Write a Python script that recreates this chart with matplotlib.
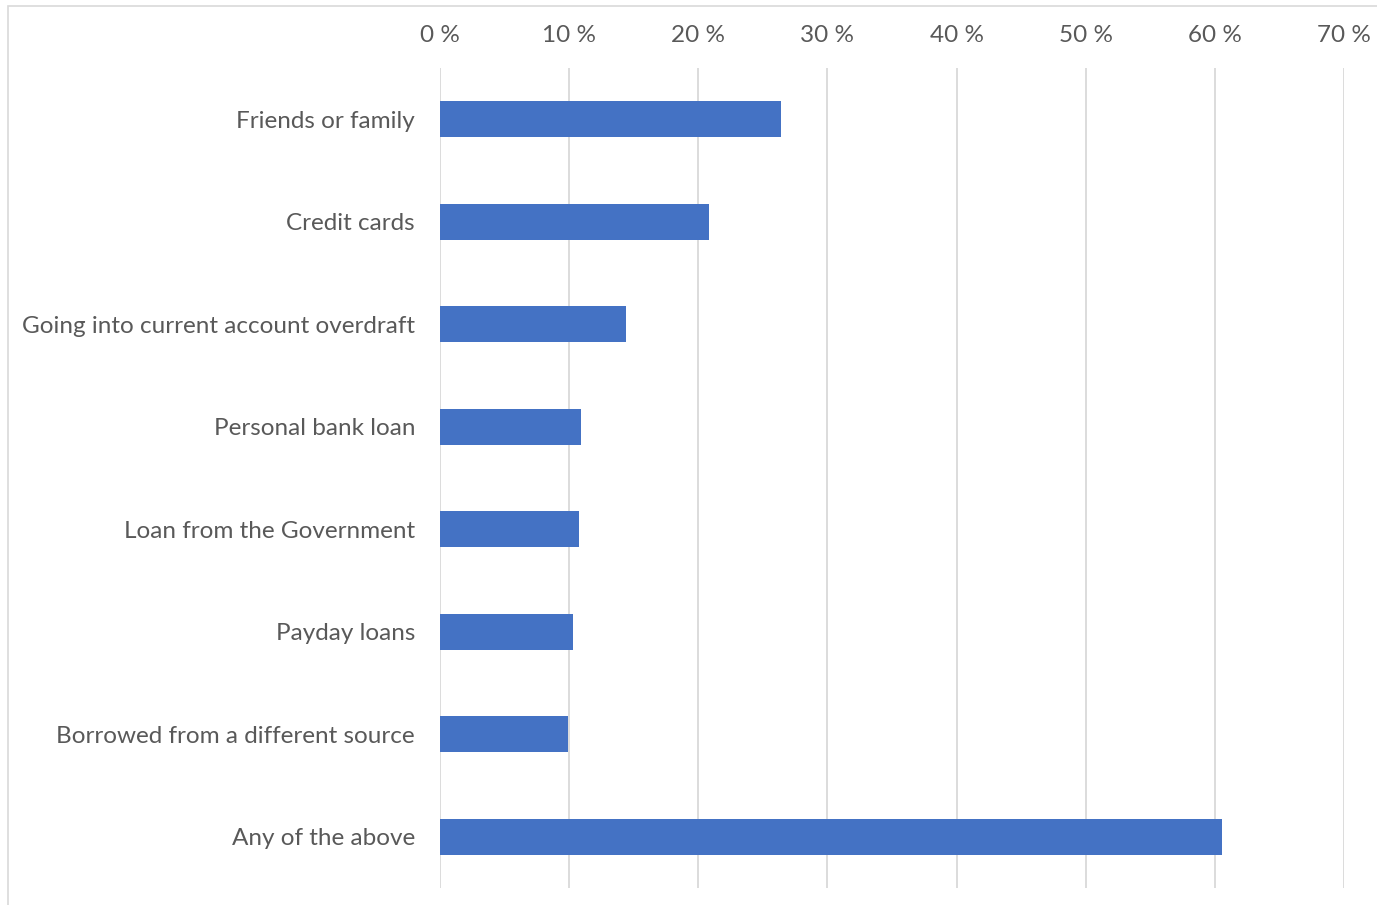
import matplotlib
matplotlib.use("Agg")
import matplotlib.pyplot as plt
from matplotlib.patches import Rectangle
from matplotlib.ticker import FuncFormatter

categories = [
    "Friends or family",
    "Credit cards",
    "Going into current account overdraft",
    "Personal bank loan",
    "Loan from the Government",
    "Payday loans",
    "Borrowed from a different source",
    "Any of the above",
]
values = [26.4, 20.8, 14.4, 10.9, 10.8, 10.3, 9.95, 60.55]
x_ticks = [0, 10, 20, 30, 40, 50, 60, 70]

plt.rcParams['font.family'] = ['Lato', 'DejaVu Sans']

W, H = 1377, 905
fig = plt.figure(figsize=(W / 100, H / 100), dpi=100)
ax = fig.add_axes([440 / W, 1 - 888 / H, (1344 - 440) / W, (888 - 68) / H])

ypos = list(range(len(categories)))
ax.barh(ypos, values, height=0.35, color="#4472C4", zorder=3)

ax.set_xlim(0, 70)
ax.set_ylim(len(categories) - 0.5, -0.5)
ax.set_xticks(x_ticks)
ax.xaxis.set_major_formatter(FuncFormatter(lambda v, p: f"{int(v)} %"))
ax.xaxis.tick_top()
ax.set_yticks(ypos)
ax.set_yticklabels(categories)
ax.tick_params(axis='both', length=0, labelsize=17.5, labelcolor="#595959")
ax.tick_params(axis='x', pad=16)
ax.tick_params(axis='y', pad=18)
ax.grid(axis='x', color="#D9D9D9", linewidth=1.3, zorder=0)
for s in ax.spines.values():
    s.set_visible(False)

# chart frame (left and top edges visible)
fig.add_artist(Rectangle((7.5 / W, -0.1), 1.2, (1 - 6 / H) + 0.1,
                         transform=fig.transFigure, fill=False,
                         edgecolor="#D9D9D9", linewidth=1.2))

fig.savefig("out.png", dpi=100)
